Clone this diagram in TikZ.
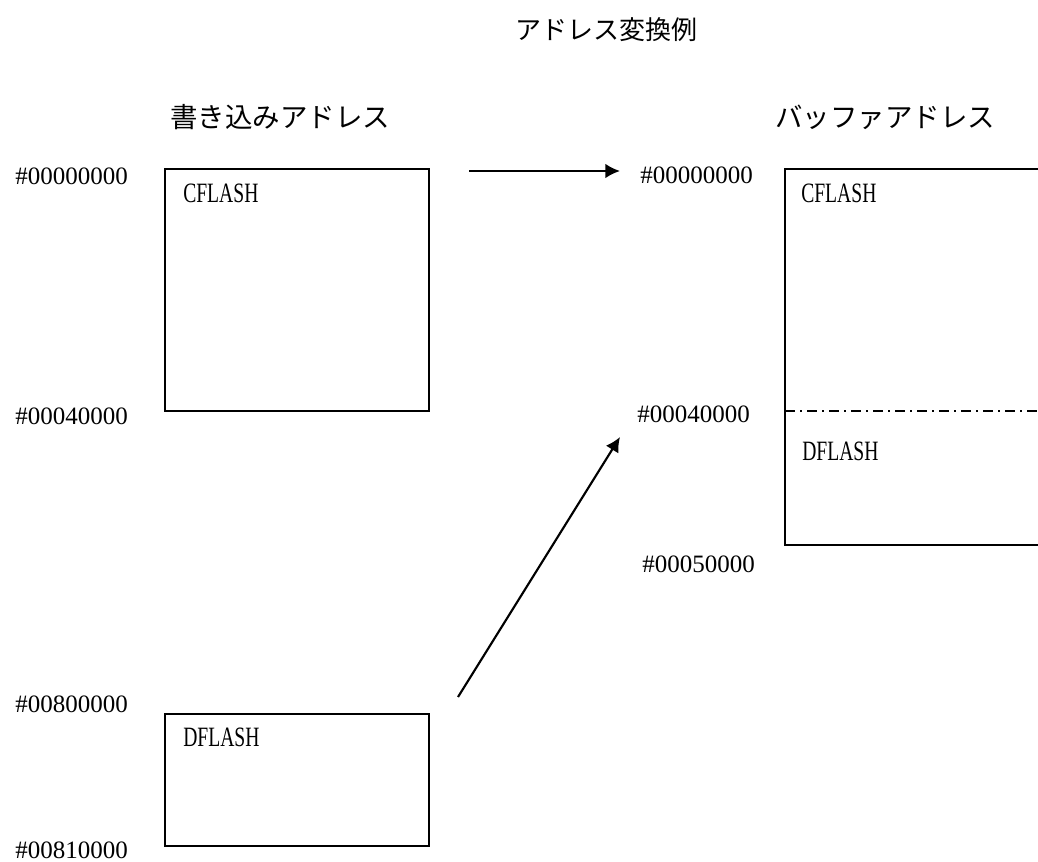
\documentclass[tikz,border=0pt]{standalone}
\usepackage{fontspec}
\setmainfont{Liberation Serif}
\newfontfamily\jp{Noto Sans CJK JP}
\usetikzlibrary{arrows.meta}
\begin{document}
\begin{tikzpicture}[x=0.75pt,y=-0.75pt,
  lbl/.style={anchor=west,inner sep=0pt,font=\fontsize{18.75pt}{20pt}\selectfont},
  blbl/.style={anchor=west,inner sep=0pt,font=\fontsize{21pt}{22pt}\selectfont},
  jlbl/.style={anchor=west,inner sep=0pt,font=\jp\fontsize{19.5pt}{22pt}\selectfont},
  jhead/.style={anchor=west,inner sep=0pt,font=\jp\fontsize{20.6pt}{22pt}\selectfont},
  boxline/.style={line width=1.5pt},
  sep/.style={line width=1.5pt,dash pattern=on 7.5pt off 3.75pt on 1.5pt off 3.75pt},
  arr/.style={line width=1.6pt,-{Latex[length=11pt,width=11pt]}}]
\useasboundingbox (0,0) rectangle (1038,862);
% titles
\node[jlbl] (title) at (515,30) {アドレス変換例};
\node[jhead] (hw) at (170,117) {書き込みアドレス};
\node[jhead] (hb) at (775,117) {バッファアドレス};
% left boxes
\draw[boxline] (165,169) rectangle (429,411);
\draw[boxline] (165,714) rectangle (429,846);
\node[blbl] (c1) at (183,193) {\scalebox{0.7}[1]{CFLASH}};
\node[blbl] (d1) at (183,737) {\scalebox{0.7}[1]{DFLASH}};
% right box (open at the right edge)
\draw[boxline] (1040,169) -- (785,169) -- (785,545) -- (1040,545);
\draw[sep] (785,411) -- (1038,411);
\node[blbl] (c2) at (801,193) {\scalebox{0.7}[1]{CFLASH}};
\node[blbl] (d2) at (802,451) {\scalebox{0.7}[1]{DFLASH}};
% address labels
\node[lbl] (la0) at (15,176) {\#00000000};
\node[lbl] (la4) at (15,416) {\#00040000};
\node[lbl] (la8) at (15,704) {\#00800000};
\node[lbl] (la81) at (15,850) {\#00810000};
\node[lbl] (ra0) at (640,175) {\#00000000};
\node[lbl] (ra4) at (637,414) {\#00040000};
\node[lbl] (ra5) at (642,564) {\#00050000};
% arrows
\coordinate (a1s) at (469,171);
\coordinate (a1e) at (620,171);
\coordinate (a2s) at (458,697);
\coordinate (a2e) at (620,437);
\draw[arr] (a1s) -- (a1e);
\draw[arr] (a2s) -- (a2e);
\end{tikzpicture}
\end{document}
